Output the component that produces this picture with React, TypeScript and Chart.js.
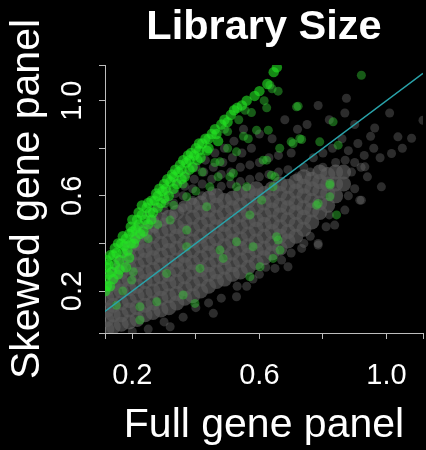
import { useEffect, useRef } from "react";
import { Chart, registerables } from "chart.js";

Chart.register(...registerables);

const titleText = "Library Size";
const xTitle = "Full gene panel";
const yTitle = "Skewed gene panel";

const xMin = 0.114;
const xMax = 1.115;
const yMin = 0.0235;
const yMax = 1.15;
const xTickValues = [0.114, 0.2, 0.4, 0.6, 0.8, 1.0, 1.115];
const yTickValues = [0.0235, 0.2, 0.4, 0.6, 0.8, 1.0, 1.15];
const labeledTicks = [0.2, 0.6, 1.0];

// identity line y = x
const identityLine: [number, number][] = [
  [0.114, 0.114],
  [1.115, 1.115],
];

// dense grey core, read column by column: [x, [y...]]
const greyCoreColumns: [number, number[]][] = [
  [0.12, [0.04, 0.08, 0.12, 0.17, 0.21]],
  [0.14, [0.05, 0.1, 0.14, 0.19, 0.23, 0.27]],
  [0.165, [0.06, 0.1, 0.15, 0.2, 0.24, 0.28, 0.32]],
  [0.19, [0.07, 0.12, 0.16, 0.21, 0.25, 0.3, 0.34, 0.38]],
  [0.215, [0.08, 0.13, 0.18, 0.22, 0.27, 0.31, 0.36, 0.4, 0.43]],
  [0.24, [0.1, 0.14, 0.19, 0.24, 0.28, 0.33, 0.37, 0.41, 0.45]],
  [0.265, [0.11, 0.15, 0.2, 0.25, 0.29, 0.34, 0.38, 0.43, 0.48]],
  [0.29, [0.12, 0.17, 0.21, 0.26, 0.31, 0.35, 0.4, 0.45, 0.5]],
  [0.315, [0.13, 0.18, 0.23, 0.27, 0.32, 0.37, 0.41, 0.46, 0.51]],
  [0.34, [0.15, 0.19, 0.24, 0.29, 0.33, 0.38, 0.43, 0.47, 0.53]],
  [0.365, [0.17, 0.21, 0.26, 0.31, 0.35, 0.4, 0.45, 0.49, 0.55]],
  [0.39, [0.18, 0.23, 0.28, 0.32, 0.37, 0.41, 0.46, 0.51, 0.56]],
  [0.415, [0.2, 0.25, 0.29, 0.34, 0.39, 0.43, 0.48, 0.53, 0.57]],
  [0.44, [0.22, 0.27, 0.31, 0.36, 0.4, 0.45, 0.5, 0.54, 0.59]],
  [0.465, [0.24, 0.28, 0.33, 0.37, 0.42, 0.47, 0.51, 0.56, 0.6]],
  [0.49, [0.25, 0.3, 0.34, 0.39, 0.44, 0.48, 0.53, 0.58]],
  [0.515, [0.27, 0.31, 0.36, 0.41, 0.45, 0.5, 0.55, 0.59]],
  [0.54, [0.28, 0.33, 0.38, 0.42, 0.47, 0.52, 0.56, 0.61]],
  [0.565, [0.3, 0.35, 0.39, 0.44, 0.49, 0.53, 0.58, 0.62]],
  [0.59, [0.32, 0.37, 0.41, 0.46, 0.5, 0.55, 0.6, 0.63]],
  [0.615, [0.34, 0.38, 0.43, 0.48, 0.52, 0.57, 0.61]],
  [0.64, [0.36, 0.4, 0.45, 0.49, 0.54, 0.58, 0.63]],
  [0.665, [0.38, 0.43, 0.47, 0.52, 0.56, 0.61, 0.65]],
  [0.69, [0.41, 0.45, 0.5, 0.55, 0.59, 0.64]],
  [0.715, [0.43, 0.48, 0.53, 0.57, 0.62, 0.66]],
  [0.74, [0.46, 0.51, 0.55, 0.6, 0.64, 0.68]],
  [0.765, [0.49, 0.54, 0.58, 0.63, 0.67]],
  [0.79, [0.53, 0.57, 0.62, 0.66, 0.7]],
  [0.815, [0.56, 0.61, 0.65, 0.69]],
  [0.84, [0.6, 0.65, 0.7]],
  [0.865, [0.65, 0.7]],
];

const greySparse: [number, number][] = [
  [0.15, 0.3], [0.15, 0.34], [0.18, 0.36], [0.18, 0.4], [0.21, 0.39], [0.21, 0.43], [0.215, 0.47],
  [0.24, 0.43], [0.24, 0.48], [0.245, 0.52], [0.27, 0.46], [0.27, 0.5], [0.275, 0.55],
  [0.3, 0.49], [0.3, 0.54], [0.305, 0.58], [0.31, 0.62], [0.33, 0.52], [0.33, 0.57], [0.335, 0.61],
  [0.34, 0.66], [0.36, 0.55], [0.36, 0.6], [0.365, 0.64], [0.37, 0.69], [0.39, 0.58], [0.39, 0.63],
  [0.395, 0.67], [0.4, 0.72], [0.42, 0.6], [0.42, 0.65], [0.425, 0.7], [0.43, 0.75], [0.45, 0.62],
  [0.45, 0.67], [0.455, 0.72], [0.46, 0.78], [0.48, 0.64], [0.48, 0.69], [0.485, 0.74], [0.49, 0.8],
  [0.51, 0.65], [0.51, 0.7], [0.515, 0.76], [0.52, 0.83], [0.54, 0.66], [0.54, 0.72], [0.545, 0.78],
  [0.57, 0.67], [0.57, 0.73], [0.575, 0.8], [0.6, 0.68], [0.6, 0.74], [0.63, 0.69], [0.63, 0.76],
  [0.66, 0.7], [0.66, 0.77], [0.69, 0.71], [0.7, 0.78],
  [0.74, 0.72], [0.77, 0.76], [0.8, 0.78], [0.83, 0.8], [0.86, 0.84], [0.88, 0.79], [0.91, 0.82],
  [0.93, 0.77], [0.9, 0.74], [0.95, 0.85], [0.84, 0.74], [0.96, 0.8], [0.98, 0.76], [0.72, 0.68],
  [0.76, 0.7], [0.8, 0.72], [0.87, 0.75], [0.92, 0.72], [0.94, 0.68], [0.89, 0.7],
  [0.785, 0.98], [0.874, 1.01], [0.869, 0.948], [1.01, 0.948], [1.115, 0.918], [0.963, 0.885],
  [1.036, 0.848], [1.079, 0.842], [1.016, 0.778], [0.984, 0.638], [0.932, 0.722], [0.916, 0.582],
  [0.72, 0.88], [0.68, 0.92], [0.75, 0.9], [0.82, 0.92], [0.9, 0.9], [1.05, 0.8], [0.6, 0.86],
  [0.55, 0.88], [0.64, 0.84],
  [0.649, 0.295], [0.69, 0.302], [0.785, 0.393], [0.733, 0.379], [0.837, 0.477], [0.869, 0.54],
  [0.921, 0.582], [0.319, 0.05], [0.455, 0.106], [0.528, 0.176], [0.785, 0.4], [0.6, 0.27],
  [0.56, 0.22], [0.4, 0.13], [0.25, 0.04], [0.36, 0.09], [0.62, 0.3], [0.7, 0.36], [0.76, 0.43],
  [0.81, 0.47], [0.88, 0.6], [0.9, 0.63], [0.48, 0.17], [0.44, 0.15], [0.3, 0.07], [0.2, 0.03],
  [0.53, 0.22], [0.67, 0.33], [0.74, 0.4], [0.82, 0.52], [0.58, 0.25],
];

const greenBand: [number, number][] = [
  [0.115, 0.2], [0.115, 0.25], [0.118, 0.3], [0.12, 0.33],
  [0.13, 0.22], [0.135, 0.28], [0.14, 0.35], [0.145, 0.38],
  [0.155, 0.27], [0.16, 0.33], [0.165, 0.4], [0.17, 0.43],
  [0.18, 0.3], [0.185, 0.37], [0.19, 0.44], [0.195, 0.47],
  [0.205, 0.4], [0.21, 0.46], [0.215, 0.5], [0.22, 0.53],
  [0.235, 0.45], [0.24, 0.5], [0.245, 0.55], [0.25, 0.57],
  [0.265, 0.53], [0.27, 0.58], [0.275, 0.61],
  [0.29, 0.57], [0.295, 0.62], [0.3, 0.65],
  [0.315, 0.6], [0.32, 0.66], [0.325, 0.69],
  [0.34, 0.65], [0.345, 0.7], [0.35, 0.73],
  [0.365, 0.68], [0.37, 0.74], [0.375, 0.77],
  [0.39, 0.72], [0.395, 0.77], [0.4, 0.8],
  [0.415, 0.76], [0.42, 0.82], [0.43, 0.84],
  [0.44, 0.8], [0.45, 0.86], [0.46, 0.88],
  [0.47, 0.83], [0.48, 0.9], [0.49, 0.92],
  [0.51, 0.94], [0.52, 0.96],
  [0.545, 0.98], [0.56, 1.0],
  [0.585, 1.02], [0.6, 1.04], [0.625, 1.07],
  [0.645, 1.12], [0.655, 1.14],
  [0.12, 0.22], [0.125, 0.27], [0.125, 0.31], [0.13, 0.35], [0.14, 0.25], [0.145, 0.31],
  [0.15, 0.36], [0.155, 0.4], [0.16, 0.29], [0.17, 0.36], [0.175, 0.39], [0.18, 0.42],
  [0.19, 0.34], [0.195, 0.4], [0.2, 0.45], [0.2, 0.5], [0.21, 0.42], [0.22, 0.48],
  [0.225, 0.44], [0.23, 0.52], [0.23, 0.56], [0.25, 0.48], [0.255, 0.53], [0.26, 0.58],
  [0.26, 0.5], [0.28, 0.55], [0.28, 0.6], [0.285, 0.63], [0.3, 0.59], [0.305, 0.63],
  [0.31, 0.67], [0.33, 0.63], [0.33, 0.68], [0.335, 0.71], [0.355, 0.67], [0.355, 0.71],
  [0.36, 0.75], [0.38, 0.71], [0.38, 0.75], [0.385, 0.78], [0.405, 0.75], [0.41, 0.79],
  [0.41, 0.82], [0.435, 0.79], [0.44, 0.84], [0.465, 0.86], [0.5, 0.91], [0.53, 0.97],
];

const greenScattered: [number, number][] = [
  [0.822, 0.652], [0.822, 0.596], [0.843, 0.52], [0.785, 0.568], [0.727, 0.84], [0.706, 0.82],
  [0.848, 0.813], [0.832, 0.911], [0.722, 0.977], [0.649, 0.68], [0.612, 0.75], [0.565, 0.84],
  [0.591, 0.876], [0.56, 0.638], [0.528, 0.638], [0.47, 0.68], [0.518, 0.695], [0.476, 0.743],
  [0.528, 0.785], [0.654, 0.428], [0.665, 0.372], [0.643, 0.337], [0.57, 0.26], [0.602, 0.302],
  [0.476, 0.372], [0.486, 0.337], [0.58, 0.386], [0.528, 0.407], [0.413, 0.295], [0.397, 0.148],
  [0.36, 0.183], [0.277, 0.155], [0.224, 0.134], [0.224, 0.078], [0.203, 0.281], [0.308, 0.274],
  [0.198, 0.246], [0.371, 0.386], [0.371, 0.456], [0.319, 0.498], [0.303, 0.568], [0.371, 0.596],
  [0.434, 0.554], [0.444, 0.638], [0.507, 0.68], [0.643, 0.638], [0.57, 0.52], [0.607, 0.582],
  [0.921, 1.107], [0.633, 1.066], [0.659, 1.04], [0.623, 0.97], [0.628, 0.876], [0.717, 0.974],
  [0.7, 0.827], [0.733, 0.837], [0.79, 0.827], [0.664, 0.8], [0.638, 0.687], [0.623, 0.75],
  [0.822, 0.645], [0.659, 0.414], [0.78, 0.561], [0.25, 0.42], [0.28, 0.48], [0.33, 0.56],
  [0.4, 0.62], [0.42, 0.7], [0.36, 0.65], [0.46, 0.74], [0.5, 0.8], [0.55, 0.85], [0.17, 0.2],
  [0.15, 0.14], [0.5, 0.87], [0.535, 0.92], [0.575, 0.95], [0.615, 1.0], [0.64, 1.05],
  [0.49, 0.88], [0.555, 0.96],
];

const FONT = "'Liberation Sans', Arial, Helvetica, sans-serif";
const AXIS_COLOR = "#bdbdbd";

const toPts = (arr: [number, number][]) => arr.map(([x, y]) => ({ x, y }));

export default function App() {
  const ref = useRef<HTMLCanvasElement | null>(null);

  useEffect(() => {
    document.body.style.margin = "0";
    document.body.style.background = "#000";
    if (!ref.current) return;

    const corePts: { x: number; y: number }[] = [];
    greyCoreColumns.forEach(([x, ys]) => ys.forEach((y) => corePts.push({ x, y })));

    const tickCb = (value: any) => {
      const v = Number(value);
      return labeledTicks.some((t) => Math.abs(t - v) < 1e-6) ? v.toFixed(1) : "";
    };

    const chart = new Chart(ref.current, {
      type: "scatter",
      data: {
        datasets: [
          {
            data: toPts(identityLine),
            showLine: true,
            borderColor: "#29a3aa",
            borderWidth: 1.5,
            pointRadius: 0,
          } as any,
          {
            data: toPts(greenBand),
            backgroundColor: "rgba(35,228,35,0.6)",
            borderWidth: 0,
            pointRadius: 5.2,
          },
          {
            data: toPts(greenScattered),
            backgroundColor: "rgba(50,200,50,0.45)",
            borderWidth: 0,
            pointRadius: 4.5,
          },
          {
            data: toPts(greySparse),
            backgroundColor: "rgba(105,105,105,0.42)",
            borderWidth: 0,
            pointRadius: 4.5,
          },
          {
            data: corePts,
            backgroundColor: "rgba(88,88,88,0.7)",
            borderWidth: 0,
            pointRadius: 7.5,
          },
        ],
      },
      options: {
        animation: false,
        responsive: false,
        events: [],
        layout: { autoPadding: false, padding: { left: 0, right: 2.7, top: 0, bottom: 0 } },
        plugins: {
          legend: { display: false },
          tooltip: { enabled: false },
          title: {
            display: true,
            text: titleText,
            color: "#ffffff",
            fullSize: false,
            font: { family: FONT, size: 41.5, weight: "bold" },
            padding: { top: 3, bottom: 12.2 },
          },
        },
        scales: {
          x: {
            type: "linear",
            min: xMin,
            max: xMax,
            afterBuildTicks: (scale: any) => {
              scale.ticks = xTickValues.map((v) => ({ value: v }));
            },
            afterFit: (scale: any) => {
              scale.height = 117;
            },
            ticks: {
              callback: tickCb,
              color: "#ffffff",
              font: { family: FONT, size: 29, lineHeight: 2.345 },
              padding: 3,
              autoSkip: false,
              maxRotation: 0,
              minRotation: 0,
            },
            grid: {
              drawOnChartArea: false,
              drawTicks: true,
              tickLength: 6,
              color: AXIS_COLOR,
              lineWidth: 1,
            },
            border: { display: true, color: AXIS_COLOR, width: 1 },
            title: {
              display: true,
              text: xTitle,
              color: "#ffffff",
              font: { family: FONT, size: 41 },
              padding: { top: 0, bottom: 0 },
            },
          },
          y: {
            type: "linear",
            min: yMin,
            max: yMax,
            afterBuildTicks: (scale: any) => {
              scale.ticks = yTickValues.map((v) => ({ value: v }));
            },
            afterFit: (scale: any) => {
              scale.width = 105;
            },
            ticks: {
              callback: tickCb,
              color: "#ffffff",
              font: { family: FONT, size: 29 },
              padding: 5.5,
              autoSkip: false,
              minRotation: 90,
              maxRotation: 90,
              crossAlign: "center",
            },
            grid: {
              drawOnChartArea: false,
              drawTicks: true,
              tickLength: 6,
              color: AXIS_COLOR,
              lineWidth: 1,
            },
            border: { display: true, color: AXIS_COLOR, width: 1 },
            title: {
              display: true,
              text: yTitle,
              color: "#ffffff",
              font: { family: FONT, size: 41 },
              padding: { top: 3.5, bottom: 0 },
            },
          },
        },
      } as any,
    });

    return () => chart.destroy();
  }, []);

  return (
    <div style={{ width: 426, height: 450, background: "#000" }}>
      <canvas ref={ref} width={426} height={450} style={{ display: "block", width: 426, height: 450 }} />
    </div>
  );
}
